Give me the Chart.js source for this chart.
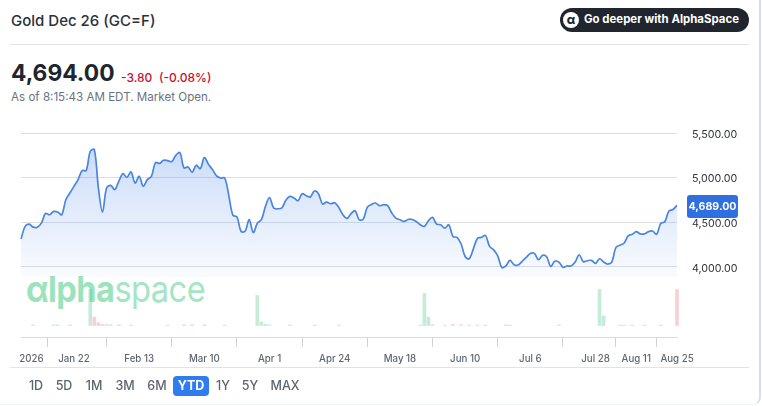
<!DOCTYPE html>
<html><head><meta charset="utf-8">
<script src="https://cdn.jsdelivr.net/npm/chart.js@4"></script>
<style>
html,body{margin:0;padding:0;background:#fff;width:762px;height:406px;overflow:hidden;font-family:Inter,sans-serif;}
.abs{position:absolute;white-space:nowrap;line-height:1;}
#card{position:absolute;left:-4px;top:-4px;width:763px;height:408px;border-right:2px solid #d3def2;border-bottom:1px solid #eef2f9;border-bottom-right-radius:8px;}
.rule{position:absolute;left:10px;width:739px;height:1px;background:#e1e3e7;}
#logo{left:26px;top:271px;font-size:36px;letter-spacing:-.6px;color:#a4e5c3;font-family:Inter,sans-serif;transform:scaleX(.905);transform-origin:0 0;}
#logo b{font-weight:700;color:#9ce3bd;}
#cv{position:absolute;left:0;top:0;}
.rb{position:absolute;top:380px;font-size:12.5px;font-weight:500;color:#5d6572;transform:translateX(-50%);line-height:1;white-space:nowrap;}
</style></head><body>
<div id="card"></div>
<div class="abs" style="left:11px;top:13px;font-size:15px;font-weight:500;color:#2b303a;">Gold Dec 26 (GC=F)</div>
<div class="abs" style="left:560px;top:8px;width:189px;height:24px;border-radius:12px;background:#20252e;"></div>
<div class="abs" style="left:563px;top:12px;width:16px;height:16px;border-radius:8px;background:#fff;color:#20252e;font-size:12px;font-weight:800;text-align:center;line-height:15px;">α</div>
<div class="abs" style="left:584px;top:14px;font-size:11.45px;font-weight:700;color:#fff;">Go deeper with AlphaSpace</div>
<div class="rule" style="top:44px;"></div>
<div class="abs" style="left:11px;top:62px;font-size:22.8px;font-weight:700;color:#20252e;">4,694.00</div>
<div class="abs" style="left:121px;top:72px;font-size:12px;font-weight:500;color:#c8102e;">-3.80</div>
<div class="abs" style="left:159px;top:72px;font-size:12px;font-weight:500;color:#c8102e;">(-0.08%)</div>
<div class="abs" style="left:11px;top:92px;font-size:11.6px;color:#6b7280;">As of 8:15:43 AM EDT. Market Open.</div>
<div class="abs" id="logo"><b>αlpha</b>space</div>
<canvas id="cv" width="762" height="406" style="width:762px;height:406px;"></canvas>
<div class="rule" style="top:367px;"></div>
<div class="abs" style="left:173px;top:376px;width:36px;height:20px;border-radius:4px;background:#2f7bf0;"></div>
<div id="ranges"></div>
<script>
const rangeLabels = ["1D","5D","1M","3M","6M","YTD","1Y","5Y","MAX"];
const rangeCenters = [36,64,94,125,157,191,223,250,285];
const priceTicks = [4000,4500,5000,5500];
const tickIndices = [0,13,29,45,61,77,93,109,125,141,151,161];
const tickLabels = ["2026","Jan 22","Feb 13","Mar 10","Apr 1","Apr 24","May 18","Jun 10","Jul 6","Jul 28","Aug 11","Aug 25"];
const prices = [
4312,4454,4480,4446,4446,4491,4600,4585,4622,4615,4585,4753,4828,4903,4978,5079,5079,5295,5314,4884,
4615,4884,4914,4865,4959,5045,5004,5064,4940,5015,4903,4978,5015,5168,5160,5195,5190,5180,5250,5280,
5110,5120,5060,5140,5100,5225,5150,5090,5020,4996,4996,4800,4580,4560,4400,4400,4530,4385,4490,
4530,4678,4776,4660,4652,4660,4746,4790,4772,4742,4820,4798,4783,4850,4820,4705,4727,4708,4720,4667,
4585,4544,4596,4630,4529,4536,4671,4700,4716,4686,4697,4686,4604,4547,4529,4510,4532,4532,4510,4473,
4454,4518,4555,4480,4473,4435,4473,4342,4331,4260,4117,4091,4200,4319,4331,4353,4230,4192,4125,3994,
4013,4073,4026,4022,4063,4107,4152,4152,4081,4130,4115,4007,4063,4055,3996,4011,4011,4055,4137,4059,
4070,4074,4041,4092,4055,4033,4055,4218,4244,4266,4348,4366,4396,4370,4370,4396,4403,4366,4488,4507,
4625,4644,4689];
const volumeUpIndex = [3,8,9,12,17,36,45,50,58,59,60,61,66,72,78,98,99,100,101,104,119,132,142,143,147,150];
const volumeUpValue = [2,3,3,2,180,2,3,2,150,18,7,3,2,2,2,3,160,42,4,2,3,2,180,48,2,2];
const volumeDownIndex = [18,19,20,21,22,24,27,40,42,106,108,110,112,114,120,148,153,157,161];
const volumeDownValue = [42,14,5,4,4,3,2,3,3,5,3,2,2,2,2,2,2,2,180];
const categories = prices.map((_, i) => i);
const lastPrice = prices[prices.length - 1];
const upData = categories.map(i => { const k = volumeUpIndex.indexOf(i); return k < 0 ? null : volumeUpValue[k]; });
const downData = categories.map(i => { const k = volumeDownIndex.indexOf(i); return k < 0 ? null : volumeDownValue[k]; });

const holder = document.getElementById('ranges');
rangeLabels.forEach((t, i) => {
  const d = document.createElement('div');
  d.className = 'rb'; d.textContent = t; d.style.left = rangeCenters[i] + 'px';
  if (t === 'YTD') { d.style.color = '#fff'; d.style.fontWeight = '700'; }
  holder.appendChild(d);
});

const priceTag = {
  id: 'priceTag',
  afterDraw(chart) {
    const c = chart.ctx, y = chart.scales.y.getPixelForValue(lastPrice) + 1;
    c.save();
    c.fillStyle = '#2f6fe0';
    c.beginPath(); c.roundRect(687, y - 11.5, 51, 23, 3); c.fill();
    c.fillStyle = '#fff'; c.font = '700 10.6px Inter, sans-serif';
    c.textAlign = 'center'; c.textBaseline = 'middle';
    c.fillText('4,689.00', 712.5, y + .5);
    c.restore();
  }
};

function fillGrad(ctx) {
  const ch = ctx.chart, s = ch.scales.y;
  const fallback = 'rgba(66,128,232,.15)';
  if (!s || !ch.chartArea) return fallback;
  const a = s.getPixelForValue(5320), b = s.getPixelForValue(3890);
  if (!isFinite(a) || !isFinite(b)) return fallback;
  const g = ch.ctx.createLinearGradient(0, a, 0, b);
  g.addColorStop(0, 'rgba(66,128,232,.27)');
  g.addColorStop(1, 'rgba(66,128,232,.03)');
  return g;
}

const chart = new Chart(document.getElementById('cv'), {
  data: {
    labels: categories,
    datasets: [
      { type:'line', data:prices, yAxisID:'y', borderColor:'#4a86e0', borderWidth:1.7, pointRadius:0, tension:.35,
        fill:{value:3890}, backgroundColor:fillGrad, order:1 },
      { type:'bar', data:upData, yAxisID:'v', backgroundColor:'rgba(70,195,135,.32)', barThickness:3, grouped:false, order:2, clip:false },
      { type:'bar', data:downData, yAxisID:'v', backgroundColor:'rgba(235,110,120,.32)', barThickness:3, grouped:false, order:2, clip:false }
    ]
  },
  options: {
    responsive:false, animation:false, devicePixelRatio:1,
    layout:{padding:{left:21,top:133,right:0,bottom:0}},
    plugins:{legend:{display:false},tooltip:{enabled:false}},
    scales:{
      x:{ type:'category', offset:false, stacked:false,
        border:{color:'#d9dce1'},
        grid:{drawOnChartArea:false, drawTicks:true, tickLength:10, color:'#cfd2d7'},
        ticks:{ autoSkip:false, maxRotation:0, minRotation:0, padding:6,
          color:'#5f6673', font:{size:9.7, weight:'500', family:'Inter, sans-serif'},
          callback:(v)=>{ const k = tickIndices.indexOf(v); if (k<0) return ''; return k===0 ? '        '+tickLabels[k] : tickLabels[k]; } },
        afterBuildTicks:s=>{ s.ticks = tickIndices.map(i=>({value:i})); },
        afterFit:s=>{ s.height = 69; s.paddingLeft = 0; s.paddingRight = 0; }
      },
      y:{ position:'right', min:3216, max:5500,
        border:{display:false},
        grid:{color:'#dcdfe4', drawTicks:false, lineWidth:1},
        ticks:{ padding:15, labelOffset:1.5, color:'#30343c', font:{size:10.7, family:'Inter, sans-serif'},
          callback:v=>v.toLocaleString('en-US',{minimumFractionDigits:2,maximumFractionDigits:2}) },
        afterBuildTicks:s=>{ s.ticks = priceTicks.map(v=>({value:v})); },
        afterFit:s=>{ s.width = 85; s.paddingTop = 0; s.paddingBottom = 0; }
      },
      v:{ display:false, position:'left', min:-57.5, max:962.5 }
    }
  },
  plugins:[priceTag]
});
</script>
</body></html>
